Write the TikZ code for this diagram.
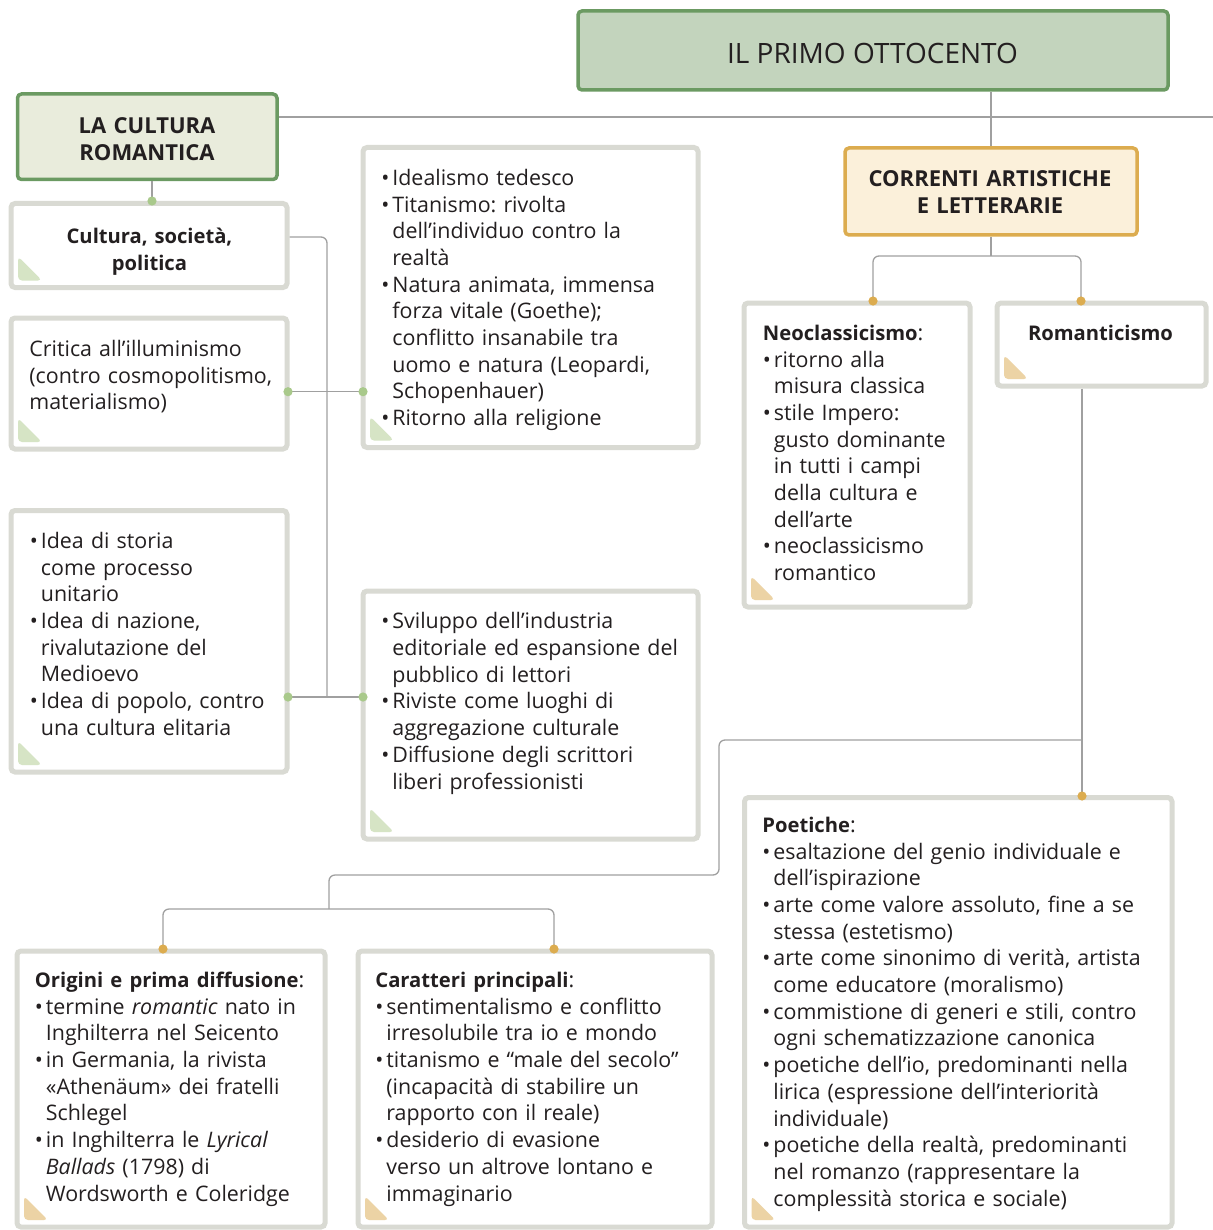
\documentclass[tikz,border=0pt]{standalone}
\usepackage{fontspec}
\setmainfont{Open Sans}
\usetikzlibrary{fit}
\frenchspacing

\definecolor{ink}{HTML}{231F20}
\definecolor{boxgray}{HTML}{D9DAD3}
\definecolor{linegray}{HTML}{A0A0A0}
\definecolor{darkgreen}{HTML}{6B9A62}
\definecolor{sagefill}{HTML}{C3D4BD}
\definecolor{palegreen}{HTML}{E9ECDC}
\definecolor{gold}{HTML}{DCAC4F}
\definecolor{cream}{HTML}{FBF0DA}
\definecolor{dotgreen}{HTML}{A9C98B}
\definecolor{trigreen}{HTML}{D6E4C5}
\definecolor{tritan}{HTML}{ECD3A5}

\newcommand{\bitem}{\noindent\strut\hangindent=5.5pt\hangafter=1\makebox[5.5pt][l]{\textbullet}}
\newcommand{\bul}{\par\bitem}
\newcommand{\hd}[1]{\noindent\strut{\fontsize{10.1}{13.35}\selectfont\bfseries #1}}

\begin{document}
\begin{tikzpicture}[x=0.5pt,y=-0.5pt,font=\fontsize{10.7}{13.35}\selectfont,text=ink,
  box/.style={draw=boxgray,line width=2.5pt,rounded corners=2pt,fill=white,inner sep=0pt},
  gtri/.style={path picture={\fill[trigreen] ([shift={(7,-7)}]path picture bounding box.south west) -- ++(0,-24) -- ++(24,24) -- cycle;}},
  ttri/.style={path picture={\fill[tritan] ([shift={(7,-7)}]path picture bounding box.south west) -- ++(0,-24) -- ++(24,24) -- cycle;}},
  body/.style={anchor=north west,inner sep=0pt,align=left,text width=#1},
  body/.default=210pt,
  title/.style={line width=1.75pt,rounded corners=2pt,inner sep=0pt},
  htext/.style={anchor=north,inner sep=0pt,align=center,text width=#1,font=\fontsize{11}{13.5}\selectfont\bfseries},
  conn/.style={draw=linegray,line width=0.65pt,rounded corners=3pt},
  gdot/.style={fill=dotgreen},
  odot/.style={fill=gold}]
  \useasboundingbox (0,0) rectangle (1213,1230);

  \node[title,draw=darkgreen,fill=sagefill,fit={(578,11) (1168,90)}] (ottocento) {};
  \node[anchor=base,inner sep=0pt,font=\fontsize{14}{16}\selectfont] (ottocento-t) at (872.5,63.3) {IL PRIMO OTTOCENTO};
  \node[title,draw=darkgreen,fill=palegreen,fit={(17.5,94) (277,179.5)}] (cultura) {};
  \node[htext=120pt] (cultura-t) at (147,114.4) {\strut LA CULTURA\\ROMANTICA};
  \node[title,draw=gold,fill=cream,fit={(845,148) (1137,235)}] (correnti) {};
  \node[htext=140pt] (correnti-t) at (990,167.4) {\strut CORRENTI ARTISTICHE\\E LETTERARIE};

  \node[box,gtri,fit={(11,203.5) (287,287.5)}] (societa) {};
  \node[htext=120pt,font=\fontsize{10.1}{13.5}\selectfont\bfseries] (societa-t) at (149.5,224.1) {\strut Cultura, società,\\politica};
  \node[box,gtri,fit={(11,318) (287,449)}] (critica) {};
  \node[body] (critica-t) at (29,337.3) {\strut Critica all’illuminismo\newline (contro cosmopolitismo,\newline materialismo)\par};
  \node[box,gtri,fit={(11,510.5) (287,772)}] (idee) {};
  \node[body] (idee-t) at (29.5,529.3) {\bitem Idea di storia\newline come processo\newline unitario
    \bul Idea di nazione,\newline rivalutazione del\newline Medioevo
    \bul Idea di popolo, contro\newline una cultura elitaria\par};

  \node[box,gtri,fit={(363,147.5) (698,447.5)}] (idealismo) {};
  \node[body] (idealismo-t) at (381,166.3) {\bitem Idealismo tedesco
    \bul Titanismo: rivolta\newline dell’individuo contro la\newline realtà
    \bul Natura animata, immensa\newline forza vitale (Goethe);\newline conflitto insanabile tra\newline uomo e natura (Leopardi,\newline Schopenhauer)
    \bul Ritorno alla religione\par};
  \node[box,gtri,fit={(363,591) (698,839)}] (sviluppo) {};
  \node[body] (sviluppo-t) at (381,609.8) {\bitem Sviluppo dell’industria\newline editoriale ed espansione del\newline pubblico di lettori
    \bul Riviste come luoghi di\newline aggregazione culturale
    \bul Diffusione degli scrittori\newline liberi professionisti\par};

  \node[box,ttri,fit={(744,303) (970,607)}] (neoclass) {};
  \node[body] (neoclass-t) at (762.5,321.3) {\hd{Neoclassicismo}:
    \bul ritorno alla\newline misura classica
    \bul stile Impero:\newline gusto dominante\newline in tutti i campi\newline della cultura e\newline dell’arte
    \bul neoclassicismo\newline romantico\par};
  \node[box,ttri,fit={(997,303) (1206,386)}] (romant) {};
  \node[anchor=base,inner sep=0pt,font=\fontsize{10.1}{13.35}\selectfont\bfseries] (romant-t) at (1100.5,340.7) {Romanticismo};

  \node[box,ttri,fit={(744.5,797.5) (1172,1227)}] (poetiche) {};
  \node[body] (poetiche-t) at (762,813.3) {\hd{Poetiche}:
    \bul esaltazione del genio individuale e\newline dell’ispirazione
    \bul arte come valore assoluto, fine a se\newline stessa (estetismo)
    \bul arte come sinonimo di verità, artista\newline come educatore (moralismo)
    \bul commistione di generi e stili, contro\newline ogni schematizzazione canonica
    \bul poetiche dell’io, predominanti nella\newline lirica (espressione dell’interiorità\newline individuale)
    \bul poetiche della realtà, predominanti\newline nel romanzo (rappresentare la\newline complessità storica e sociale)\par};

  \node[box,ttri,fit={(17,951) (325,1227)}] (origini) {};
  \node[body] (origini-t) at (34.5,968.3) {\hd{Origini e prima diffusione}:
    \bul termine \emph{romantic} nato in\newline Inghilterra nel Seicento
    \bul in Germania, la rivista\newline «Athenäum» dei fratelli\newline Schlegel
    \bul in Inghilterra le \emph{Lyrical}\newline \emph{Ballads} (1798) di\newline Wordsworth e Coleridge\par};
  \node[box,ttri,fit={(358,951) (712,1227)}] (caratteri) {};
  \node[body] (caratteri-t) at (375,968.3) {\hd{Caratteri principali}:
    \bul sentimentalismo e conflitto\newline irresolubile tra io e mondo
    \bul titanismo e “male del secolo”\newline (incapacità di stabilire un\newline rapporto con il reale)
    \bul desiderio di evasione\newline verso un altrove lontano e\newline immaginario\par};

  \coordinate (edge) at (1213,117);
  \coordinate (d0) at (152,201);
  \coordinate (ja) at (327,237);
  \coordinate (jb) at (327,697);
  \coordinate (dcr) at (288,391.7);
  \coordinate (did) at (363,391.7);
  \coordinate (dide) at (288,697);
  \coordinate (dsv) at (363,697);
  \coordinate (jc) at (991,256);
  \coordinate (dne) at (873,301);
  \coordinate (dro) at (1081,301);
  \coordinate (dpo) at (1082,796);
  \coordinate (jd) at (1082,740);
  \coordinate (ka) at (719,740);
  \coordinate (kb) at (719,875);
  \coordinate (kc) at (329,875);
  \coordinate (je) at (329,909);
  \coordinate (dor) at (163,949);
  \coordinate (dca) at (554,949);

  \draw[conn] (correnti.north |- ottocento.south) -- (correnti.north);
  \draw[conn] (cultura.east |- edge) -- (edge);
  \draw[conn] (d0 |- cultura.south) -- (d0);
  \draw[conn] (societa.east |- ja) -- (ja) -- (jb);
  \draw[conn] (dcr) -- (did);
  \draw[conn] (dide) -- (dsv);
  \draw[conn] (correnti.south) -- (jc);
  \draw[conn] (dne) |- (jc) -| (dro);
  \draw[conn] (dpo |- romant.south) -- (dpo);
  \draw[conn] (jd) -- (ka) -- (kb) -- (kc) -- (je);
  \draw[conn] (dor) |- (je) -| (dca);

  \foreach \d in {d0,dcr,did,dide,dsv}
    \fill[gdot] (\d) circle (2.3pt);
  \foreach \d in {dne,dro,dpo,dor,dca}
    \fill[odot] (\d) circle (2.3pt);
\end{tikzpicture}
\end{document}
